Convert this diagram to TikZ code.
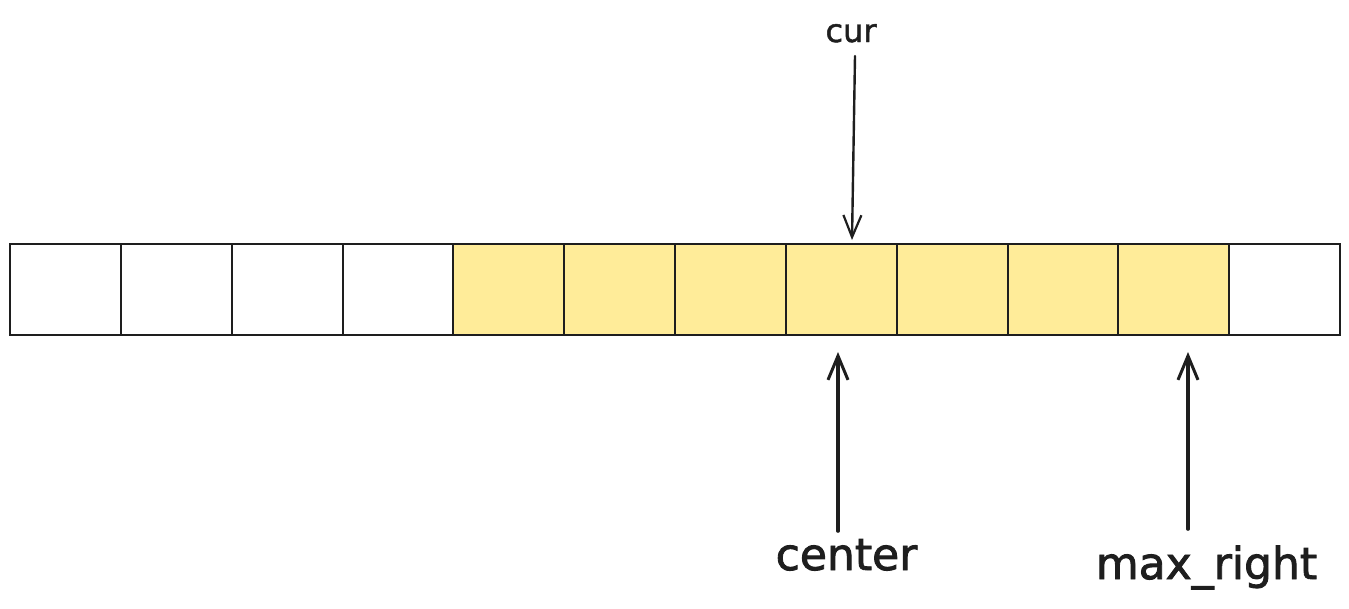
\documentclass[tikz,border=0pt]{standalone}
\usepackage{fontspec}
\setmainfont{DejaVu Sans}
\usetikzlibrary{arrows.meta,backgrounds}
\definecolor{ink}{HTML}{1E1E1E}
\definecolor{hl}{HTML}{FFEC99}
\tikzset{
  cell/.style={draw=ink, line width=2pt, rectangle, minimum width=110.83pt, minimum height=91pt, inner sep=0pt},
  ptr/.style={draw=ink, line width=3.6pt, line cap=round, -{Straight Barb[length=24pt, width=20pt, line width=3pt]}},
  thinptr/.style={draw=ink, line width=2.4pt, line cap=round, -{Straight Barb[length=22pt, width=18pt, line width=2.2pt]}},
  lbl/.style={text=ink, inner sep=0pt, anchor=base},
}
\begin{document}
\begin{tikzpicture}[x=1pt, y=-1pt]
\useasboundingbox (0,0) rectangle (1349,608);
\foreach \i in {1,...,12} {
  \pgfmathsetmacro{\cx}{10 + (\i-0.5)*110.833}
  \node[cell] (c\i) at (\cx,289.5) {};
}
\begin{scope}[on background layer]
  \fill[hl] (c5.north west) rectangle (c11.south east);
\end{scope}
\node[lbl, font=\fontsize{32}{36}\selectfont\addfontfeature{FakeBold=1.5}] (cur) at (851,42) {cur};
\node[lbl, font=\fontsize{44}{50}\selectfont\addfontfeature{FakeBold=2}] (center) at (846.5,570) {center};
\node[lbl, font=\fontsize{44}{50}\selectfont\addfontfeature{FakeBold=2}] (maxr) at (1206.5,579) {max\_right};
\coordinate (curtop) at (855,56);
\coordinate (curtip) at (852,240);
\coordinate (ctail) at (838,531);
\coordinate (ctip) at (838,352);
\coordinate (mtail) at (1188,529);
\coordinate (mtip) at (1188,352);
\draw[thinptr] (curtop) -- (curtip);
\draw[ptr] (ctail) -- (ctip);
\draw[ptr] (mtail) -- (mtip);
\end{tikzpicture}
\end{document}
